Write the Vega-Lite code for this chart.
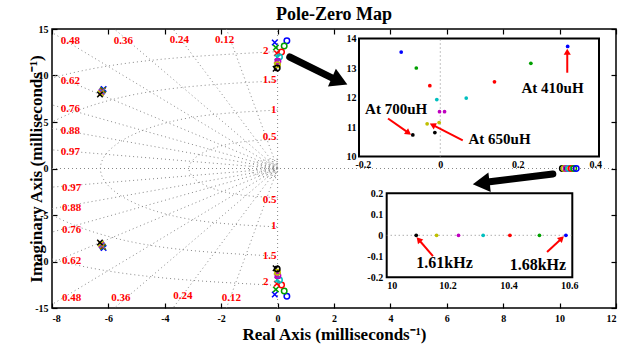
{
"$schema":"https://vega.github.io/schema/vega-lite/v6.json",
"width":564,"height":279,"autosize":"none",
"padding":{"left":52,"top":29,"right":14,"bottom":38},
"background":"white",
"title":{"text":"Pole-Zero Map","font":"Liberation Serif","fontSize":18,"fontWeight":"bold","color":"black","offset":0},
"config":{
 "view":{"stroke":"black","strokeWidth":1.5},
 "axis":{"labelFont":"Liberation Serif","labelFontWeight":"bold","titleFont":"Liberation Serif","titleFontWeight":"bold","labelColor":"black","titleColor":"black","domain":false,"grid":false,"tickColor":"black"},
 "text":{"font":"Liberation Serif"}
},
"datasets":{
 "rad":[
  {"x":0,"y":0,"x2":-8,"y2":2.005},{"x":0,"y":0,"x2":-8,"y2":-2.005},
  {"x":0,"y":0,"x2":-8,"y2":4.318},{"x":0,"y":0,"x2":-8,"y2":-4.318},
  {"x":0,"y":0,"x2":-8,"y2":6.841},{"x":0,"y":0,"x2":-8,"y2":-6.841},
  {"x":0,"y":0,"x2":-8,"y2":10.124},{"x":0,"y":0,"x2":-8,"y2":-10.124},
  {"x":0,"y":0,"x2":-8,"y2":14.62},{"x":0,"y":0,"x2":-8,"y2":-14.62},
  {"x":0,"y":0,"x2":-5.788,"y2":15},{"x":0,"y":0,"x2":-5.788,"y2":-15},
  {"x":0,"y":0,"x2":-3.708,"y2":15},{"x":0,"y":0,"x2":-3.708,"y2":-15},
  {"x":0,"y":0,"x2":-1.813,"y2":15},{"x":0,"y":0,"x2":-1.813,"y2":-15},
  {"x":0,"y":-15,"x2":0,"y2":15},
  {"x":-8,"y":0,"x2":12,"y2":0}
 ],
 "arcs":[
  {"r":"a4","i":0,"x":0,"y":12.566},{"r":"a4","i":1,"x":-6.283,"y":10.883},{"r":"a4","i":2,"x":-10.883,"y":6.283},{"r":"a4","i":3,"x":-12.566,"y":0},{"r":"a4","i":4,"x":-10.883,"y":-6.283},{"r":"a4","i":5,"x":-6.283,"y":-10.883},{"r":"a4","i":6,"x":0,"y":-12.566},
  {"r":"a3","i":0,"x":0,"y":9.425},{"r":"a3","i":1,"x":-4.712,"y":8.162},{"r":"a3","i":2,"x":-8.162,"y":4.712},{"r":"a3","i":3,"x":-9.425,"y":0},{"r":"a3","i":4,"x":-8.162,"y":-4.712},{"r":"a3","i":5,"x":-4.712,"y":-8.162},{"r":"a3","i":6,"x":0,"y":-9.425},
  {"r":"a2","i":0,"x":0,"y":6.283},{"r":"a2","i":1,"x":-3.142,"y":5.441},{"r":"a2","i":2,"x":-5.441,"y":3.142},{"r":"a2","i":3,"x":-6.283,"y":0},{"r":"a2","i":4,"x":-5.441,"y":-3.142},{"r":"a2","i":5,"x":-3.142,"y":-5.441},{"r":"a2","i":6,"x":0,"y":-6.283},
  {"r":"a1","i":0,"x":0,"y":3.142},{"r":"a1","i":1,"x":-1.571,"y":2.721},{"r":"a1","i":2,"x":-2.721,"y":1.571},{"r":"a1","i":3,"x":-3.142,"y":0},{"r":"a1","i":4,"x":-2.721,"y":-1.571},{"r":"a1","i":5,"x":-1.571,"y":-2.721},{"r":"a1","i":6,"x":0,"y":-3.142},
  {"r":"b6","i":0,"x":0,"y":1},{"r":"b6","i":1,"x":-0.5,"y":0.866},{"r":"b6","i":2,"x":-0.866,"y":0.5},{"r":"b6","i":3,"x":-1,"y":0},{"r":"b6","i":4,"x":-0.866,"y":-0.5},{"r":"b6","i":5,"x":-0.5,"y":-0.866},{"r":"b6","i":6,"x":0,"y":-1},
  {"r":"b5","i":0,"x":0,"y":0.75},{"r":"b5","i":1,"x":-0.375,"y":0.65},{"r":"b5","i":2,"x":-0.65,"y":0.375},{"r":"b5","i":3,"x":-0.75,"y":0},{"r":"b5","i":4,"x":-0.65,"y":-0.375},{"r":"b5","i":5,"x":-0.375,"y":-0.65},{"r":"b5","i":6,"x":0,"y":-0.75},
  {"r":"b4","i":0,"x":0,"y":0.55},{"r":"b4","i":1,"x":-0.275,"y":0.476},{"r":"b4","i":2,"x":-0.476,"y":0.275},{"r":"b4","i":3,"x":-0.55,"y":0},{"r":"b4","i":4,"x":-0.476,"y":-0.275},{"r":"b4","i":5,"x":-0.275,"y":-0.476},{"r":"b4","i":6,"x":0,"y":-0.55},
  {"r":"b3","i":0,"x":0,"y":0.4},{"r":"b3","i":1,"x":-0.2,"y":0.346},{"r":"b3","i":2,"x":-0.346,"y":0.2},{"r":"b3","i":3,"x":-0.4,"y":0},{"r":"b3","i":4,"x":-0.346,"y":-0.2},{"r":"b3","i":5,"x":-0.2,"y":-0.346},{"r":"b3","i":6,"x":0,"y":-0.4},
  {"r":"b2","i":0,"x":0,"y":0.25},{"r":"b2","i":1,"x":-0.125,"y":0.217},{"r":"b2","i":2,"x":-0.217,"y":0.125},{"r":"b2","i":3,"x":-0.25,"y":0},{"r":"b2","i":4,"x":-0.217,"y":-0.125},{"r":"b2","i":5,"x":-0.125,"y":-0.217},{"r":"b2","i":6,"x":0,"y":-0.25},
  {"r":"b1","i":0,"x":0,"y":0.12},{"r":"b1","i":1,"x":-0.06,"y":0.104},{"r":"b1","i":2,"x":-0.104,"y":0.06},{"r":"b1","i":3,"x":-0.12,"y":0},{"r":"b1","i":4,"x":-0.104,"y":-0.06},{"r":"b1","i":5,"x":-0.06,"y":-0.104},{"r":"b1","i":6,"x":0,"y":-0.12}
 ],
 "zeta":[
  {"t":"0.48","x":-7.35,"y":13.74},{"t":"0.62","x":-7.35,"y":9.44},{"t":"0.76","x":-7.35,"y":6.4},{"t":"0.88","x":-7.35,"y":4.0},{"t":"0.97","x":-7.35,"y":1.75},
  {"t":"0.36","x":-5.47,"y":13.74},{"t":"0.24","x":-3.48,"y":13.85},{"t":"0.12","x":-1.88,"y":13.85},
  {"t":"0.97","x":-7.3,"y":-2.06},{"t":"0.88","x":-7.3,"y":-4.28},{"t":"0.76","x":-7.3,"y":-6.6},{"t":"0.62","x":-7.3,"y":-9.9},{"t":"0.48","x":-7.3,"y":-13.9},
  {"t":"0.36","x":-5.56,"y":-13.96},{"t":"0.24","x":-3.36,"y":-13.7},{"t":"0.12","x":-1.64,"y":-13.9}
 ],
 "freq":[
  {"t":"2","x":-0.32,"y":12.67},{"t":"1.5","x":-0.04,"y":9.55},{"t":"1","x":-0.04,"y":6.29},{"t":"0.5","x":-0.04,"y":3.35},
  {"t":"0.5","x":-0.04,"y":-3.39},{"t":"1","x":-0.04,"y":-6.2},{"t":"1.5","x":-0.04,"y":-9.38},{"t":"2","x":-0.32,"y":-12.24}
 ],
 "pz":[
  {"s":"410","k":"p","x":-0.101,"y":13.54},{"s":"410","k":"p","x":-0.101,"y":-13.54},
  {"s":"450","k":"p","x":-0.062,"y":13.0},{"s":"450","k":"p","x":-0.062,"y":-13.0},
  {"s":"500","k":"p","x":-0.027,"y":12.40},{"s":"500","k":"p","x":-0.027,"y":-12.40},
  {"s":"550","k":"p","x":-0.009,"y":11.93},{"s":"550","k":"p","x":-0.009,"y":-11.93},
  {"s":"600","k":"p","x":-0.002,"y":11.52},{"s":"600","k":"p","x":-0.002,"y":-11.52},
  {"s":"650","k":"p","x":-0.034,"y":11.11},{"s":"650","k":"p","x":-0.034,"y":-11.11},
  {"s":"700","k":"p","x":-0.071,"y":10.73},{"s":"700","k":"p","x":-0.071,"y":-10.73},
  {"s":"410","k":"z","x":0.329,"y":13.73},{"s":"410","k":"z","x":0.329,"y":-13.73},
  {"s":"450","k":"z","x":0.234,"y":13.16},{"s":"450","k":"z","x":0.234,"y":-13.16},
  {"s":"500","k":"z","x":0.140,"y":12.53},{"s":"500","k":"z","x":0.140,"y":-12.53},
  {"s":"550","k":"z","x":0.067,"y":11.98},{"s":"550","k":"z","x":0.067,"y":-11.98},
  {"s":"600","k":"z","x":0.011,"y":11.52},{"s":"600","k":"z","x":0.011,"y":-11.52},
  {"s":"650","k":"z","x":-0.003,"y":11.15},{"s":"650","k":"z","x":-0.003,"y":-11.15},
  {"s":"700","k":"z","x":-0.014,"y":10.81},{"s":"700","k":"z","x":-0.014,"y":-10.81},
  {"s":"700","k":"z","x":10.097,"y":0},{"s":"650","k":"z","x":10.164,"y":0},{"s":"600","k":"z","x":10.236,"y":0},{"s":"550","k":"z","x":10.317,"y":0},{"s":"500","k":"z","x":10.405,"y":0},{"s":"450","k":"z","x":10.502,"y":0},{"s":"410","k":"z","x":10.589,"y":0},
  {"s":"410","k":"p","x":-6.17,"y":8.55},{"s":"410","k":"p","x":-6.17,"y":-8.55},
  {"s":"450","k":"p","x":-6.19,"y":8.45},{"s":"450","k":"p","x":-6.19,"y":-8.45},
  {"s":"500","k":"p","x":-6.21,"y":8.36},{"s":"500","k":"p","x":-6.21,"y":-8.36},
  {"s":"550","k":"p","x":-6.23,"y":8.28},{"s":"550","k":"p","x":-6.23,"y":-8.28},
  {"s":"600","k":"p","x":-6.25,"y":8.2},{"s":"600","k":"p","x":-6.25,"y":-8.2},
  {"s":"650","k":"p","x":-6.27,"y":8.1},{"s":"650","k":"p","x":-6.27,"y":-8.1},
  {"s":"700","k":"p","x":-6.3,"y":7.95},{"s":"700","k":"p","x":-6.3,"y":-7.95}
 ],
 "big":[{"x":0.43,"y":11.99,"x2":1.91,"y2":9.78},{"x":9.76,"y":-0.59,"x2":7.52,"y2":-1.42}],
 "ra1":[{"x":-0.135,"y":11.29,"x2":-0.082,"y2":10.80},{"x":0.058,"y":10.55,"x2":-0.020,"y2":11.07},{"x":0.328,"y":12.84,"x2":0.328,"y2":13.55}],
 "ra2":[{"x":10.152,"y":-0.099,"x2":10.105,"y2":-0.02},{"x":10.527,"y":-0.08,"x2":10.575,"y2":-0.015}],
 "ann1":[{"t":"At 700uH","x":-0.114,"y":11.61},{"t":"At 650uH","x":0.153,"y":10.58},{"t":"At 410uH","x":0.29,"y":12.32}],
 "ann2":[{"t":"1.61kHz","x":10.19,"y":-0.132},{"t":"1.68kHz","x":10.497,"y":-0.141}]
},
"layer":[
 {"layer":[
  {"data":{"name":"rad"},"mark":{"type":"rule","strokeDash":[1,3],"color":"#888888","strokeWidth":1},
   "encoding":{
    "x":{"field":"x","type":"quantitative","scale":{"domain":[-8,12],"nice":false,"zero":false},
     "axis":{"orient":"bottom","values":[-8,-6,-4,-2,0,2,4,6,8,10,12],"labelExpr":"''+datum.value","tickSize":-5,"tickWidth":1.2,"labelFontSize":10,"labelPadding":10,"title":"Real Axis (milliseconds⁻¹)","titleFontSize":17,"titlePadding":3}},
    "y":{"field":"y","type":"quantitative","scale":{"domain":[-15,15],"nice":false,"zero":false},
     "axis":{"orient":"left","values":[-15,-10,-5,0,5,10,15],"labelExpr":"''+datum.value","tickSize":-5,"tickWidth":1.2,"labelFontSize":10,"labelPadding":9,"title":"Imaginary Axis (milliseconds⁻¹)","titleFontSize":17,"titlePadding":-11}},
    "x2":{"field":"x2"},"y2":{"field":"y2"}}},
  {"data":{"values":[{}]},"mark":{"type":"point","opacity":0},
   "encoding":{
    "x":{"datum":0,"type":"quantitative","scale":{"domain":[-8,12],"nice":false,"zero":false},
     "axis":{"orient":"top","values":[-8,-6,-4,-2,0,2,4,6,8,10,12],"labels":false,"tickSize":-5,"tickWidth":1.2,"title":null}},
    "y":{"datum":0,"type":"quantitative","scale":{"domain":[-15,15],"nice":false,"zero":false},
     "axis":{"orient":"right","values":[-15,-10,-5,0,5,10,15],"labels":false,"tickSize":-5,"tickWidth":1.2,"title":null}}}},
  {"data":{"name":"arcs"},"mark":{"type":"line","interpolate":"natural","strokeDash":[1,3],"color":"#888888","strokeWidth":1,"clip":true},
   "encoding":{
    "x":{"field":"x","type":"quantitative","scale":{"domain":[-8,12],"nice":false,"zero":false},"axis":null},
    "y":{"field":"y","type":"quantitative","scale":{"domain":[-15,15],"nice":false,"zero":false},"axis":null},
    "detail":{"field":"r"},"order":{"field":"i","type":"quantitative"}}},
  {"data":{"name":"zeta"},"mark":{"type":"text","color":"#ff0000","fontSize":11,"fontWeight":"bold","font":"Liberation Serif","align":"center","baseline":"middle"},
   "encoding":{
    "x":{"field":"x","type":"quantitative","scale":{"domain":[-8,12],"nice":false,"zero":false},"axis":null},
    "y":{"field":"y","type":"quantitative","scale":{"domain":[-15,15],"nice":false,"zero":false},"axis":null},
    "text":{"field":"t"}}},
  {"data":{"name":"freq"},"mark":{"type":"text","color":"#ff0000","fontSize":11,"fontWeight":"bold","font":"Liberation Serif","align":"right","baseline":"middle"},
   "encoding":{
    "x":{"field":"x","type":"quantitative","scale":{"domain":[-8,12],"nice":false,"zero":false},"axis":null},
    "y":{"field":"y","type":"quantitative","scale":{"domain":[-15,15],"nice":false,"zero":false},"axis":null},
    "text":{"field":"t"}}},
  {"data":{"name":"pz"},"mark":{"type":"point","filled":false,"strokeWidth":1.5,"size":30,"opacity":1},
   "encoding":{
    "x":{"field":"x","type":"quantitative","scale":{"domain":[-8,12],"nice":false,"zero":false},"axis":null},
    "y":{"field":"y","type":"quantitative","scale":{"domain":[-15,15],"nice":false,"zero":false},"axis":null},
    "color":{"field":"s","type":"nominal","scale":{"domain":["410","450","500","550","600","650","700"],"range":["#0000ff","#00a000","#ff0000","#00bfbf","#bf00bf","#bfbf00","#000000"]},"legend":null},
    "shape":{"field":"k","type":"nominal","scale":{"domain":["p","z"],"range":["M-1,-1L1,1M-1,1L1,-1","circle"]},"legend":null}}},
  {"data":{"name":"big"},"mark":{"type":"rule","color":"black","strokeWidth":7,"strokeCap":"round"},
   "encoding":{
    "x":{"field":"x","type":"quantitative","scale":{"domain":[-8,12],"nice":false,"zero":false},"axis":null},
    "y":{"field":"y","type":"quantitative","scale":{"domain":[-15,15],"nice":false,"zero":false},"axis":null},
    "x2":{"field":"x2"},"y2":{"field":"y2"}}},
  {"data":{"values":[{"x":2.2,"y":9.41}]},"mark":{"type":"point","shape":"triangle-right","filled":true,"color":"black","size":380,"angle":24,"opacity":1},
   "encoding":{
    "x":{"field":"x","type":"quantitative","scale":{"domain":[-8,12],"nice":false,"zero":false},"axis":null},
    "y":{"field":"y","type":"quantitative","scale":{"domain":[-15,15],"nice":false,"zero":false},"axis":null}}},
  {"data":{"values":[{"x":7.22,"y":-1.59}]},"mark":{"type":"point","shape":"triangle-left","filled":true,"color":"black","size":380,"angle":-7,"opacity":1},
   "encoding":{
    "x":{"field":"x","type":"quantitative","scale":{"domain":[-8,12],"nice":false,"zero":false},"axis":null},
    "y":{"field":"y","type":"quantitative","scale":{"domain":[-15,15],"nice":false,"zero":false},"axis":null}}}
 ],
 "resolve":{"axis":{"x":"independent","y":"independent"}}},
 {"layer":[
  {"data":{"values":[{}]},"mark":{"type":"rect","fill":"white","stroke":"black","strokeWidth":2},
   "encoding":{
    "x":{"datum":-0.21,"type":"quantitative","scale":{"domain":[-0.21,0.41],"range":[307,547],"nice":false,"zero":false},
     "axis":{"orient":"bottom","offset":-151.5,"values":[-0.2,0,0.2,0.4],"labelExpr":"''+datum.value","ticks":false,"labelFontSize":10,"labelPadding":3,"title":null}},
    "y":{"datum":10,"type":"quantitative","scale":{"domain":[10,14],"range":[127.5,9.5],"nice":false,"zero":false},
     "axis":{"orient":"left","offset":-307,"values":[10,11,12,13,14],"labelExpr":"''+datum.value","ticks":false,"labelFontSize":10,"labelPadding":3,"title":null}},
    "x2":{"datum":0.41},"y2":{"datum":14}}},
  {"data":{"values":[{}]},"mark":{"type":"rule","strokeDash":[1,3],"color":"#888888","strokeWidth":1},
   "encoding":{
    "x":{"datum":0,"type":"quantitative","scale":{"domain":[-0.21,0.41],"range":[307,547],"nice":false,"zero":false}},
    "y":{"datum":10,"type":"quantitative","scale":{"domain":[10,14],"range":[127.5,9.5],"nice":false,"zero":false}},
    "y2":{"datum":14}}},
  {"data":{"name":"pz"},"transform":[{"filter":"datum.y > 9 && datum.x > -1"}],"mark":{"type":"circle","size":14,"opacity":1},
   "encoding":{
    "x":{"field":"x","type":"quantitative","scale":{"domain":[-0.21,0.41],"range":[307,547],"nice":false,"zero":false}},
    "y":{"field":"y","type":"quantitative","scale":{"domain":[10,14],"range":[127.5,9.5],"nice":false,"zero":false}},
    "color":{"field":"s","type":"nominal","scale":{"domain":["410","450","500","550","600","650","700"],"range":["#0000ff","#00a000","#ff0000","#00bfbf","#bf00bf","#bfbf00","#000000"]},"legend":null}}},
  {"data":{"name":"ra1"},"mark":{"type":"rule","color":"#ff0000","strokeWidth":2},
   "encoding":{
    "x":{"field":"x","type":"quantitative","scale":{"domain":[-0.21,0.41],"range":[307,547],"nice":false,"zero":false}},
    "y":{"field":"y","type":"quantitative","scale":{"domain":[10,14],"range":[127.5,9.5],"nice":false,"zero":false}},
    "x2":{"field":"x2"},"y2":{"field":"y2"}}},
  {"data":{"values":[{"x":-0.082,"y":10.80}]},"mark":{"type":"point","shape":"triangle-right","filled":true,"color":"#ff0000","size":50,"angle":35,"opacity":1},
   "encoding":{
    "x":{"field":"x","type":"quantitative","scale":{"domain":[-0.21,0.41],"range":[307,547],"nice":false,"zero":false}},
    "y":{"field":"y","type":"quantitative","scale":{"domain":[10,14],"range":[127.5,9.5],"nice":false,"zero":false}}}},
  {"data":{"values":[{"x":-0.020,"y":11.07}]},"mark":{"type":"point","shape":"triangle-right","filled":true,"color":"#ff0000","size":50,"angle":206.6,"opacity":1},
   "encoding":{
    "x":{"field":"x","type":"quantitative","scale":{"domain":[-0.21,0.41],"range":[307,547],"nice":false,"zero":false}},
    "y":{"field":"y","type":"quantitative","scale":{"domain":[10,14],"range":[127.5,9.5],"nice":false,"zero":false}}}},
  {"data":{"values":[{"x":0.328,"y":13.55}]},"mark":{"type":"point","shape":"triangle-up","filled":true,"color":"#ff0000","size":50,"opacity":1},
   "encoding":{
    "x":{"field":"x","type":"quantitative","scale":{"domain":[-0.21,0.41],"range":[307,547],"nice":false,"zero":false}},
    "y":{"field":"y","type":"quantitative","scale":{"domain":[10,14],"range":[127.5,9.5],"nice":false,"zero":false}}}},
  {"data":{"name":"ann1"},"mark":{"type":"text","fontSize":15,"fontWeight":"bold","font":"Liberation Serif","color":"black","align":"center","baseline":"middle"},
   "encoding":{
    "x":{"field":"x","type":"quantitative","scale":{"domain":[-0.21,0.41],"range":[307,547],"nice":false,"zero":false}},
    "y":{"field":"y","type":"quantitative","scale":{"domain":[10,14],"range":[127.5,9.5],"nice":false,"zero":false}},
    "text":{"field":"t"}}}
 ]},
 {"layer":[
  {"data":{"values":[{}]},"mark":{"type":"rect","fill":"white","stroke":"black","strokeWidth":2},
   "encoding":{
    "x":{"datum":10,"type":"quantitative","scale":{"domain":[10,10.61],"range":[334.7,520.3],"nice":false,"zero":false},
     "axis":{"orient":"bottom","offset":-30.7,"values":[10,10.2,10.4,10.6],"labelExpr":"''+datum.value","ticks":false,"labelFontSize":10,"labelPadding":3,"title":null}},
    "y":{"datum":-0.2,"type":"quantitative","scale":{"domain":[-0.2,0.2],"range":[248.3,164.3],"nice":false,"zero":false},
     "axis":{"orient":"left","offset":-334.7,"values":[-0.2,-0.1,0,0.1,0.2],"labelExpr":"''+datum.value","ticks":false,"labelFontSize":10,"labelPadding":4,"title":null}},
    "x2":{"datum":10.61},"y2":{"datum":0.2}}},
  {"data":{"values":[{}]},"mark":{"type":"rule","strokeDash":[1,3],"color":"#888888","strokeWidth":1},
   "encoding":{
    "x":{"datum":10,"type":"quantitative","scale":{"domain":[10,10.61],"range":[334.7,520.3],"nice":false,"zero":false}},
    "y":{"datum":0,"type":"quantitative","scale":{"domain":[-0.2,0.2],"range":[248.3,164.3],"nice":false,"zero":false}},
    "x2":{"datum":10.61}}},
  {"data":{"name":"pz"},"transform":[{"filter":"datum.y == 0"}],"mark":{"type":"circle","size":14,"opacity":1},
   "encoding":{
    "x":{"field":"x","type":"quantitative","scale":{"domain":[10,10.61],"range":[334.7,520.3],"nice":false,"zero":false}},
    "y":{"field":"y","type":"quantitative","scale":{"domain":[-0.2,0.2],"range":[248.3,164.3],"nice":false,"zero":false}},
    "color":{"field":"s","type":"nominal","scale":{"domain":["410","450","500","550","600","650","700"],"range":["#0000ff","#00a000","#ff0000","#00bfbf","#bf00bf","#bfbf00","#000000"]},"legend":null}}},
  {"data":{"name":"ra2"},"mark":{"type":"rule","color":"#ff0000","strokeWidth":2},
   "encoding":{
    "x":{"field":"x","type":"quantitative","scale":{"domain":[10,10.61],"range":[334.7,520.3],"nice":false,"zero":false}},
    "y":{"field":"y","type":"quantitative","scale":{"domain":[-0.2,0.2],"range":[248.3,164.3],"nice":false,"zero":false}},
    "x2":{"field":"x2"},"y2":{"field":"y2"}}},
  {"data":{"values":[{"x":10.105,"y":-0.02}]},"mark":{"type":"point","shape":"triangle-right","filled":true,"color":"#ff0000","size":50,"angle":229,"opacity":1},
   "encoding":{
    "x":{"field":"x","type":"quantitative","scale":{"domain":[10,10.61],"range":[334.7,520.3],"nice":false,"zero":false}},
    "y":{"field":"y","type":"quantitative","scale":{"domain":[-0.2,0.2],"range":[248.3,164.3],"nice":false,"zero":false}}}},
  {"data":{"values":[{"x":10.575,"y":-0.015}]},"mark":{"type":"point","shape":"triangle-right","filled":true,"color":"#ff0000","size":50,"angle":-43,"opacity":1},
   "encoding":{
    "x":{"field":"x","type":"quantitative","scale":{"domain":[10,10.61],"range":[334.7,520.3],"nice":false,"zero":false}},
    "y":{"field":"y","type":"quantitative","scale":{"domain":[-0.2,0.2],"range":[248.3,164.3],"nice":false,"zero":false}}}},
  {"data":{"name":"ann2"},"mark":{"type":"text","fontSize":16,"fontWeight":"bold","font":"Liberation Serif","color":"black","align":"center","baseline":"middle"},
   "encoding":{
    "x":{"field":"x","type":"quantitative","scale":{"domain":[10,10.61],"range":[334.7,520.3],"nice":false,"zero":false}},
    "y":{"field":"y","type":"quantitative","scale":{"domain":[-0.2,0.2],"range":[248.3,164.3],"nice":false,"zero":false}},
    "text":{"field":"t"}}}
 ]}
],
"resolve":{"scale":{"x":"independent","y":"independent"},"axis":{"x":"independent","y":"independent"}}
}
